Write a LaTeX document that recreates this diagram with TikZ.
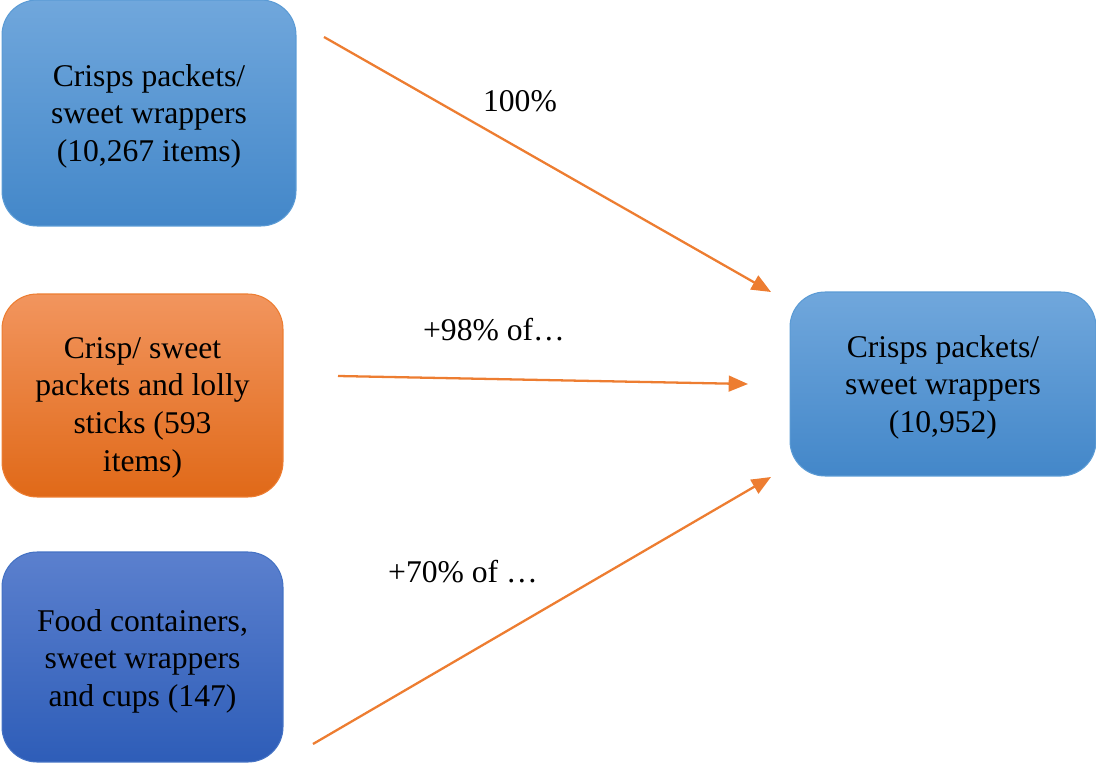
\documentclass[tikz,border=0pt]{standalone}
\usepackage{fontspec}
\setmainfont{Liberation Serif}
\usetikzlibrary{arrows.meta}
\definecolor{arrowc}{HTML}{ED7D31}
\definecolor{blueTop}{HTML}{70A7DC}
\definecolor{blueBot}{HTML}{4387C9}
\definecolor{blueEdge}{HTML}{5B9BD5}
\definecolor{orTop}{HTML}{F2955E}
\definecolor{orBot}{HTML}{E06918}
\definecolor{orEdge}{HTML}{ED7D31}
\definecolor{dbTop}{HTML}{5B80CE}
\definecolor{dbBot}{HTML}{2E5DB8}
\definecolor{dbEdge}{HTML}{4472C4}
\begin{document}
\begin{tikzpicture}[x=0.02cm,y=-0.02cm,
  box/.style={rounded corners=0.7cm, inner sep=0pt, line width=0.6pt},
  bluebox/.style={box, draw=blueEdge, top color=blueTop, bottom color=blueBot},
  orangebox/.style={box, draw=orEdge, top color=orTop, bottom color=orBot},
  darkbox/.style={box, draw=dbEdge, top color=dbTop, bottom color=dbBot},
  boxtext/.style={align=center, inner sep=0pt, font=\fontsize{18}{21.4}\selectfont},
  conn/.style={draw=arrowc, line width=1.3pt, -{Triangle[length=11pt,width=9pt]}},
  lbl/.style={font=\fontsize{18}{21.4}\selectfont, inner sep=0pt}]
\useasboundingbox (0,0) rectangle (1096,764);
\node[bluebox, minimum width=5.88cm, minimum height=4.52cm] (b1) at (149,113) {};
\node[boxtext] (b1t) at ([yshift=-3*0.02cm]b1.center)
  {Crisps packets/\\sweet wrappers\\(10,267 items)};
\node[orangebox, minimum width=5.62cm, minimum height=4.06cm] (b2) at (142.5,395.5) {};
\node[boxtext] (b2t) at ([yshift=-12*0.02cm]b2.center)
  {Crisp/ sweet\\packets and lolly\\sticks (593\\items)};
\node[darkbox, minimum width=5.62cm, minimum height=4.2cm] (b3) at (142.5,657) {};
\node[boxtext] (b3t) at ([yshift=-4*0.02cm]b3.center)
  {Food containers,\\sweet wrappers\\and cups (147)};
\node[bluebox, minimum width=6.12cm, minimum height=3.68cm] (b4) at (943,384) {};
\node[boxtext] (b4t) at ([yshift=-3*0.02cm]b4.center)
  {Crisps packets/\\sweet wrappers\\(10,952)};
\coordinate (s1) at (324,37);
\coordinate (e1) at (771,292);
\coordinate (s2) at (338,376);
\coordinate (e2) at (748,384);
\coordinate (s3) at (313,744);
\coordinate (e3) at (771,477);
\draw[conn] (s1) -- (e1);
\draw[conn] (s2) -- (e2);
\draw[conn] (s3) -- (e3);
\node[lbl] (l1) at (520,101) {100\%};
\node[lbl] (l2) at (494,330) {+98\% of…};
\node[lbl] (l3) at (463,572) {+70\% of …};
\end{tikzpicture}
\end{document}
